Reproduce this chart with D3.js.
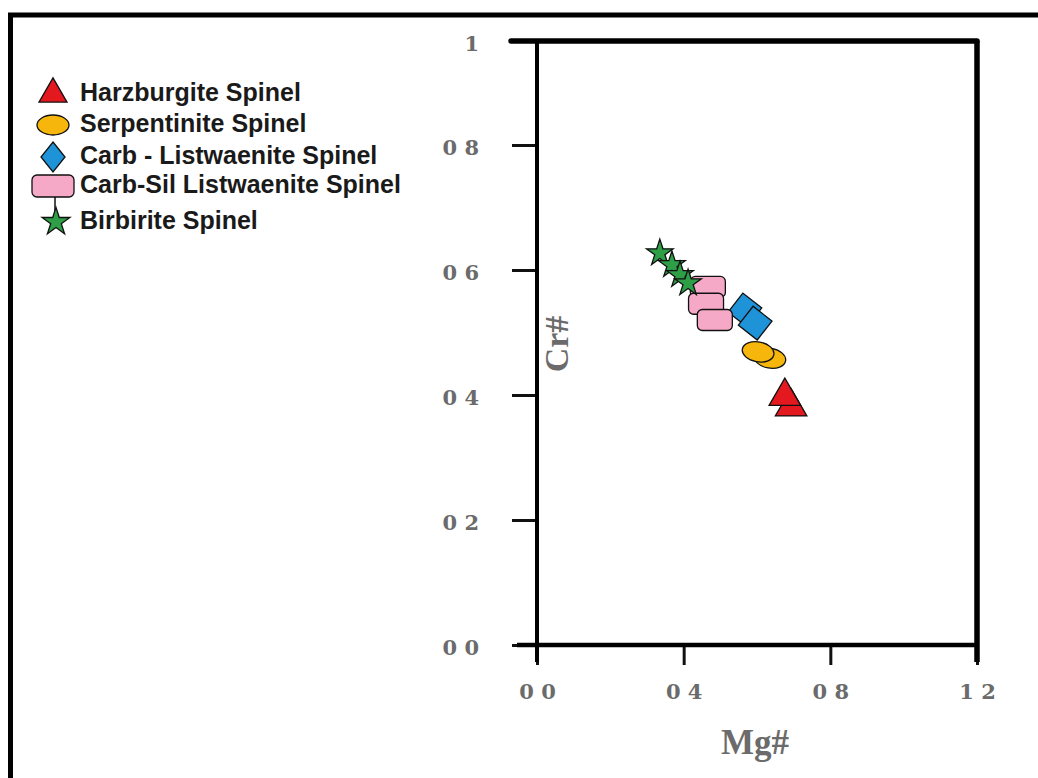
<!DOCTYPE html>
<html>
<head>
<meta charset="utf-8">
<script src="https://d3js.org/d3.v7.min.js"></script>
<style>
  body { margin: 0; background: #fff; }
  .tick text { font-family: "DejaVu Serif", "Liberation Serif", serif; font-weight: bold; fill: #6b6b6b; }
  .tick line { stroke: #111; stroke-width: 3; }
</style>
</head>
<body>
<div id="chart"></div>
<script>
// series names (legend order)
var seriesNames = ["Harzburgite Spinel", "Serpentinite Spinel", "Carb - Listwaenite Spinel", "Carb-Sil Listwaenite Spinel", "Birbirite Spinel"]

// values (Mg#, Cr#)
var harzMg = [0.693, 0.676], harzCr = [0.381, 0.398]
var serpMg = [0.635, 0.603], serpCr = [0.459, 0.469]
var carbMg = [0.567, 0.595], carbCr = [0.536, 0.515]
var silMg = [0.466, 0.461, 0.485], silCr = [0.573, 0.546, 0.520]
var birbMg = [0.335, 0.368, 0.390, 0.412], birbCr = [0.627, 0.608, 0.592, 0.579]

// tick values and labels (the original has the decimal points lost)
var xTicks = [0, 0.4, 0.8, 1.2], xTickLabels = ["0 0", "0 4", "0 8", "1 2"]
var yTicks = [0, 0.2, 0.4, 0.6, 0.8, 1], yTickLabels = ["0 0", "0 2", "0 4", "0 6", "0 8", "1"]

var width = 1038, height = 778

var svg = d3.select("#chart")
  .append("svg")
  .attr("width", width)
  .attr("height", height)

// outer black frame
svg.append("rect")
  .attr("x", 10.5).attr("y", 15)
  .attr("width", 1200).attr("height", 900)
  .attr("fill", "none")
  .attr("stroke", "#000")
  .attr("stroke-width", 5)

// scales (the hand drawn y axis is squeezed at the top)
var x = d3.scaleLinear().domain([0, 1.2]).range([537, 977])
var y = d3.scaleLinear().domain([0, 0.8, 1]).range([645, 145, 41])

// axes
svg.append("g")
  .attr("transform", "translate(" + x(0) + ",0)")
  .call(d3.axisLeft(y).tickValues(yTicks).tickSize(25).tickPadding(33)
    .tickFormat(function(d, i) { return yTickLabels[i] }))
  .call(function(g) { g.select(".domain").remove() })
  .selectAll("text").style("font-size", "21px").attr("dy", "0.45em")

svg.append("g")
  .attr("transform", "translate(0," + y(0) + ")")
  .call(d3.axisBottom(x).tickValues(xTicks).tickSize(20).tickPadding(19)
    .tickFormat(function(d, i) { return xTickLabels[i] }))
  .call(function(g) { g.select(".domain").remove() })
  .selectAll("text").style("font-size", "21px")

// frame lines
var frame = svg.append("g").attr("stroke", "#000").attr("stroke-linecap", "round")
frame.append("line").attr("x1", 511).attr("x2", x(1.2)).attr("y1", y(1)).attr("y2", y(1)).attr("stroke-width", 5.5)
frame.append("line").attr("x1", x(1.2)).attr("x2", x(1.2)).attr("y1", y(1)).attr("y2", 662).attr("stroke-width", 5.5).attr("stroke-linecap", "butt")
frame.append("line").attr("x1", x(0)).attr("x2", x(0)).attr("y1", y(1)).attr("y2", 662).attr("stroke-width", 4).attr("stroke-linecap", "butt")
frame.append("line").attr("x1", 517).attr("x2", x(1.2)).attr("y1", y(0)).attr("y2", y(0)).attr("stroke-width", 4.5).attr("stroke-linecap", "butt")

// axis titles
svg.append("text")
  .attr("x", 755).attr("y", 754)
  .attr("text-anchor", "middle")
  .style("font-family", "Liberation Serif, DejaVu Serif, serif")
  .style("font-weight", "bold")
  .style("font-size", "35px")
  .style("fill", "#6b6b6b")
  .text("Mg#")

svg.append("text")
  .attr("transform", "translate(568,344) rotate(-90)")
  .attr("text-anchor", "middle")
  .style("font-family", "Liberation Serif, DejaVu Serif, serif")
  .style("font-weight", "bold")
  .style("font-size", "34px")
  .style("fill", "#6b6b6b")
  .text("Cr#")

// marker drawing helpers
var colors = ["#e3191f", "#f6b60c", "#1f93d8", "#f5a9c6", "#2e9e47"]

function drawMarker(g, k, big) {
  if (k == 0) {
    g.append("path").attr("d", d3.symbol(d3.symbolTriangle, big ? 340 : 430)())
  } else if (k == 1) {
    g.append("ellipse").attr("rx", 16).attr("ry", 10).attr("transform", big ? null : "rotate(10)")
  } else if (k == 2) {
    if (big) g.append("path").attr("d", "M0,-15L12,0L0,15L-12,0Z")
    else g.append("rect").attr("x", -12).attr("y", -12).attr("width", 24).attr("height", 24).attr("transform", "rotate(38)")
  } else if (k == 3) {
    var w = big ? 42 : 35, h = big ? 22 : 21
    g.append("rect").attr("x", -w / 2).attr("y", -h / 2).attr("width", w).attr("height", h).attr("rx", 5)
  } else {
    g.append("path").attr("d", d3.symbol(d3.symbolStar, big ? 240 : 220)())
  }
  g.selectAll("*").attr("fill", colors[k]).attr("stroke", "#111").attr("stroke-width", 1.3)
}

// points
var groups = [[harzMg, harzCr], [serpMg, serpCr], [carbMg, carbCr], [silMg, silCr], [birbMg, birbCr]]
groups.forEach(function(s, k) {
  svg.append("g").selectAll("g")
    .data(d3.range(s[0].length))
    .enter().append("g")
    .attr("transform", function(i) { return "translate(" + x(s[0][i]) + "," + y(s[1][i]) + ")" })
    .each(function() { drawMarker(d3.select(this), k, false) })
})

// legend
var legY = [94, 125, 157, 186, 222]
var leg = svg.append("g")
leg.append("line").attr("x1", 55).attr("x2", 55).attr("y1", 196).attr("y2", 212).attr("stroke", "#111").attr("stroke-width", 1.5)
seriesNames.forEach(function(name, k) {
  var g = leg.append("g").attr("transform", "translate(" + (k == 4 ? 56 : 53) + "," + legY[k] + ")")
  drawMarker(g, k, true)
  leg.append("text")
    .attr("x", 80).attr("y", legY[k] + 7)
    .style("font-family", "Liberation Sans, Arial, sans-serif")
    .style("font-weight", "bold")
    .style("font-size", "25px")
    .style("fill", "#1a1a1a")
    .text(name)
})
</script>
</body>
</html>
